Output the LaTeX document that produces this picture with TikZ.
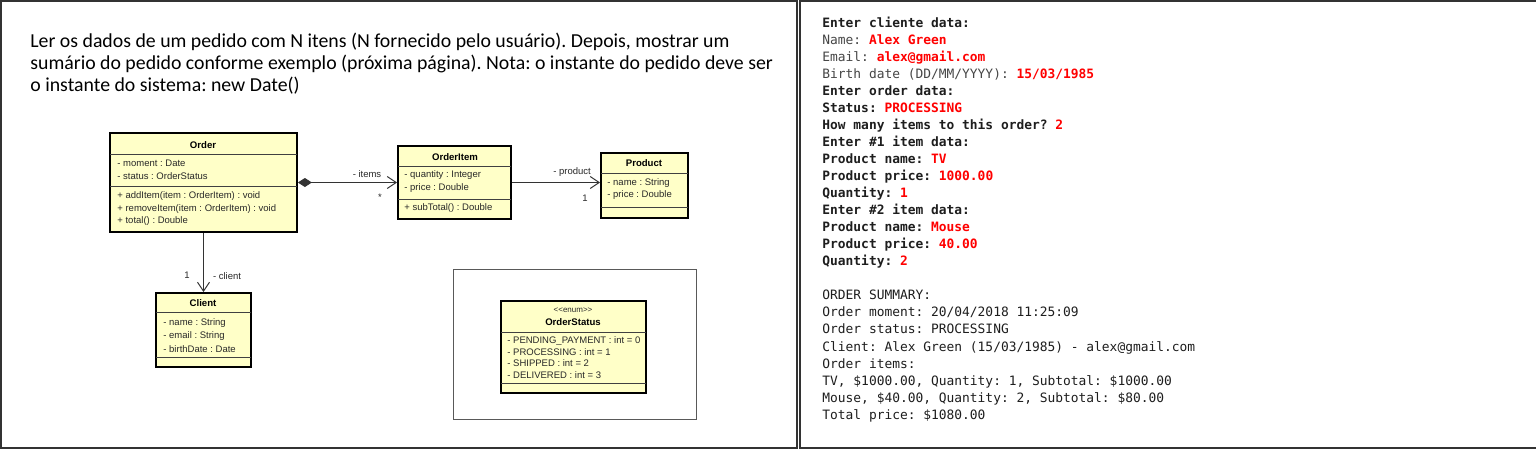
\documentclass[tikz,border=0pt]{standalone}
\usepackage{fontspec}
\setmainfont{Carlito}
\newfontfamily\umlfont{Liberation Sans}
\newfontfamily\monofont{DejaVu Sans Mono}
\usetikzlibrary{arrows.meta,fit}
\definecolor{umlfill}{RGB}{255,255,200}
\definecolor{inred}{RGB}{255,0,0}
\definecolor{congray}{RGB}{70,70,70}
\definecolor{condark}{RGB}{30,30,30}
\definecolor{umltext}{RGB}{40,40,40}
\frenchspacing
\begin{document}
\frenchspacing
\begin{tikzpicture}[x=0.5pt,y=-0.5pt,
  panel/.style={draw=black!80, line width=1pt},
  umlbox/.style={draw=black, line width=0.9pt, fill=umlfill, inner sep=0pt},
  umlsep/.style={draw=black!75, line width=0.5pt},
  umltxt/.style={font=\umlfont\fontsize{4.75pt}{5pt}\selectfont, text=umltext, inner sep=0pt, anchor=west},
  umltitle/.style={font=\umlfont\bfseries\fontsize{4.8pt}{5pt}\selectfont, text=black, inner sep=0pt},
  umllabel/.style={font=\umlfont\fontsize{4.75pt}{5pt}\selectfont, text=umltext, inner sep=0pt},
  assoc/.style={draw=black!80, line width=0.5pt},
  desc/.style={font=\fontsize{9.9pt}{11pt}\selectfont, inner sep=0pt, anchor=base west, text=black},
  con/.style={font=\monofont\fontsize{6.45pt}{8pt}\selectfont, inner sep=0pt, anchor=base west, text=condark}
]
\useasboundingbox (0,0) rectangle (1536,450);
\fill[white] (0,0) rectangle (1536,450);
% panels
\draw[panel] (1,1) rectangle (797,448);
\draw[panel] (800,1) rectangle (1540,448);

% description
\node[desc] (d1) at (30,47) {Ler os dados de um pedido com N itens (N fornecido pelo usuário). Depois, mostrar um};
\node[desc] (d2) at (30,69) {sumário do pedido conforme exemplo (próxima página). Nota: o instante do pedido deve ser};
\node[desc] (d3) at (30,91) {o instante do sistema: new Date()};

% Order
\node[umlbox, fit={(110,133)(297,232)}] (order) {};
\draw[umlsep] (110,154) -- (297,154);
\draw[umlsep] (110,186) -- (297,186);
\node[umltitle] (ordert) at (203,145) {Order};
\node[umltxt] (oa1) at (117,163) {- moment : Date};
\node[umltxt] (oa2) at (117,176) {- status : OrderStatus};
\node[umltxt] (om1) at (117,196) {+ addItem(item : OrderItem) : void};
\node[umltxt] (om2) at (117,209) {+ removeItem(item : OrderItem) : void};
\node[umltxt] (om3) at (117,221) {+ total() : Double};

% OrderItem
\node[umlbox, fit={(398,146)(511,219)}] (oitem) {};
\draw[umlsep] (398,166) -- (511,166);
\draw[umlsep] (398,199) -- (511,199);
\node[umltitle] (oitemt) at (455,157) {OrderItem};
\node[umltxt] (ia1) at (404,175) {- quantity : Integer};
\node[umltxt] (ia2) at (404,188) {- price : Double};
\node[umltxt] (im1) at (404,208) {+ subTotal() : Double};

% Product
\node[umlbox, fit={(601,153)(688,218)}] (product) {};
\draw[umlsep] (601,173) -- (688,173);
\draw[umlsep] (601,207) -- (688,207);
\node[umltitle] (productt) at (644,163) {Product};
\node[umltxt] (pa1) at (607,183) {- name : String};
\node[umltxt] (pa2) at (607,195) {- price : Double};

% Client
\node[umlbox, fit={(156,293)(251,367)}] (client) {};
\draw[umlsep] (156,312) -- (251,312);
\draw[umlsep] (156,357) -- (251,357);
\node[umltitle] (clientt) at (203,303) {Client};
\node[umltxt] (ca1) at (163,323) {- name : String};
\node[umltxt] (ca2) at (163,336) {- email : String};
\node[umltxt] (ca3) at (163,349) {- birthDate : Date};

% enum frame
\draw[draw=black!65, line width=0.5pt] (453,269) rectangle (696,419);
\node[umlbox, fit={(501,301)(646,393)}] (ostatus) {};
\draw[umlsep] (501,332) -- (646,332);
\draw[umlsep] (501,383) -- (646,383);
\node[umllabel, font=\umlfont\fontsize{4pt}{5pt}\selectfont] (ostereo) at (573,310) {<<enum>>};
\node[umltitle] (ostatust) at (573,322) {OrderStatus};
\node[umltxt] (sa1) at (507,341) {- PENDING\_PAYMENT : int = 0};
\node[umltxt] (sa2) at (507,352) {- PROCESSING : int = 1};
\node[umltxt] (sa3) at (507,363) {- SHIPPED : int = 2};
\node[umltxt] (sa4) at (507,375) {- DELIVERED : int = 3};

% associations
\draw[assoc, {Diamond[length=7pt,width=4.5pt]}-{Straight Barb[length=4.5pt,width=6pt]}] (order.east) -- (oitem.west);
\node[umllabel] (litems) at (367,174) {- items};
\node[umllabel] (lstar) at (380,197) {*};
\draw[assoc, -{Straight Barb[length=4.5pt,width=6pt]}] (oitem.east) -- (oitem.east -| product.west);
\node[umllabel] (lprod) at (572,172) {- product};
\node[umllabel] (lone) at (585,198) {1};
\draw[assoc, -{Straight Barb[length=4.5pt,width=6pt]}] (client.north |- order.south) -- (client.north);
\node[umllabel] (lone2) at (187,275) {1};
\node[umllabel] (lclient) at (227,276) {- client};

% console
\node[con] (c0) at (822,27.0) {\bfseries Enter cliente data:};
\node[con, text=congray] (c1) at (822,44.1) {Name: \textcolor{inred}{\bfseries Alex Green}};
\node[con, text=congray] (c2) at (822,61.1) {Email: \textcolor{inred}{\bfseries alex@gmail.com}};
\node[con, text=congray] (c3) at (822,78.2) {Birth date (DD/MM/YYYY): \textcolor{inred}{\bfseries 15/03/1985}};
\node[con] (c4) at (822,95.2) {\bfseries Enter order data:};
\node[con] (c5) at (822,112.3) {\bfseries Status: \textcolor{inred}{PROCESSING}};
\node[con] (c6) at (822,129.3) {\bfseries How many items to this order? \textcolor{inred}{2}};
\node[con] (c7) at (822,146.4) {\bfseries Enter \#1 item data:};
\node[con] (c8) at (822,163.4) {\bfseries Product name: \textcolor{inred}{TV}};
\node[con] (c9) at (822,180.5) {\bfseries Product price: \textcolor{inred}{1000.00}};
\node[con] (c10) at (822,197.5) {\bfseries Quantity: \textcolor{inred}{1}};
\node[con] (c11) at (822,214.6) {\bfseries Enter \#2 item data:};
\node[con] (c12) at (822,231.6) {\bfseries Product name: \textcolor{inred}{Mouse}};
\node[con] (c13) at (822,248.7) {\bfseries Product price: \textcolor{inred}{40.00}};
\node[con] (c14) at (822,265.7) {\bfseries Quantity: \textcolor{inred}{2}};
\node[con] (c16) at (822,299.8) {ORDER SUMMARY:};
\node[con] (c17) at (822,316.9) {Order moment: 20/04/2018 11:25:09};
\node[con] (c18) at (822,333.9) {Order status: PROCESSING};
\node[con] (c19) at (822,351.0) {Client: Alex Green (15/03/1985) - alex@gmail.com};
\node[con] (c20) at (822,368.0) {Order items:};
\node[con] (c21) at (822,385.1) {TV, \$1000.00, Quantity: 1, Subtotal: \$1000.00};
\node[con] (c22) at (822,402.1) {Mouse, \$40.00, Quantity: 2, Subtotal: \$80.00};
\node[con] (c23) at (822,419.2) {Total price: \$1080.00};
\end{tikzpicture}
\end{document}
